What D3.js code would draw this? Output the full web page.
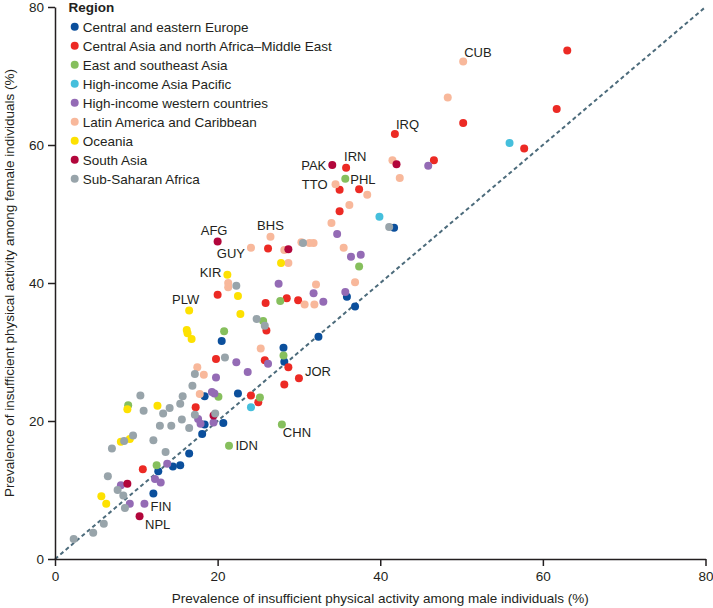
<!DOCTYPE html>
<html>
<head>
<meta charset="utf-8">
<script src="https://cdn.jsdelivr.net/npm/d3@7"></script>
<style>
  body { margin: 0; background: #fff; }
  svg text { font-family: "Liberation Sans", Arial, sans-serif; fill: #231f20; }
</style>
</head>
<body>
<svg id="chart" width="713" height="608"></svg>
<script>
// DATA
const regions = [
  "Central and eastern Europe",
  "Central Asia and north Africa\u2013Middle East",
  "East and southeast Asia",
  "High-income Asia Pacific",
  "High-income western countries",
  "Latin America and Caribbean",
  "Oceania",
  "South Asia",
  "Sub-Saharan Africa",
];
const regionColours = ["#0b4f9c", "#ec2a24", "#86bf5d", "#45bfdc", "#946bb5", "#f8b89b", "#fde101", "#b2063b", "#98a4aa"];

// [male %, female %, label]
const centralEasternEurope = [
  [41.7, 48.0], [35.9, 38.0], [36.9, 36.6], [32.4, 32.2], [20.5, 31.6], [28.1, 30.6],
  [28.2, 28.6], [18.4, 23.6], [22.5, 24.0], [18.4, 19.5], [20.7, 19.7], [18.1, 18.1],
  [16.5, 15.3], [14.5, 13.4], [15.4, 13.6], [12.7, 12.7], [12.1, 9.5],
];
const centralAsiaNAME = [
  [63.0, 73.7], [61.7, 65.2], [50.2, 63.2], [41.8, 61.6, "IRQ"], [57.7, 59.5], [46.6, 57.8],
  [35.8, 56.7, "IRN"], [37.4, 53.6], [35.0, 53.5], [35.0, 50.4], [26.2, 45.0], [20.0, 38.3],
  [28.5, 37.8], [29.9, 37.5], [25.9, 37.1], [26.0, 33.1], [28.7, 27.8], [25.8, 28.8],
  [19.8, 29.0], [30.0, 26.2, "JOR"], [28.2, 25.3], [24.1, 23.7], [25.0, 22.7], [17.3, 22.0],
  [10.8, 13.0],
];
const eastSoutheastAsia = [
  [35.7, 55.1, "PHL"], [37.4, 42.4], [27.7, 37.4], [25.6, 34.5], [20.8, 33.0], [28.1, 29.5],
  [20.1, 23.5], [25.2, 23.4], [9.0, 22.3], [27.9, 19.5, "CHN"], [21.4, 16.4, "IDN"], [12.5, 13.6],
];
const highIncomeAsiaPacific = [[55.9, 60.3], [39.9, 49.6], [24.1, 22.0]];
const highIncomeWestern = [
  [45.9, 57.0], [34.7, 47.1], [36.4, 43.8], [37.6, 44.1], [35.7, 38.7], [27.5, 39.9],
  [31.8, 38.5], [33.0, 37.3], [26.2, 28.3], [22.3, 28.5], [23.7, 27.1], [19.8, 26.3],
  [19.3, 24.2], [19.6, 24.0], [17.6, 20.3], [17.9, 19.6], [19.5, 19.8], [13.8, 13.8],
  [12.3, 11.6], [13.0, 11.1], [8.1, 10.7], [9.2, 8.0], [11.0, 8.0, "FIN"],
];
const latinAmericaCaribbean = [
  [50.2, 72.1, "CUB"], [48.3, 66.9], [41.5, 57.8], [42.4, 55.2], [34.5, 54.3, "TTO"], [38.4, 52.8],
  [36.2, 51.3], [34.0, 48.7], [35.5, 45.1], [36.9, 40.1], [26.5, 46.7, "BHS"], [24.1, 45.1, "GUY"],
  [28.2, 44.8], [30.3, 45.9], [31.3, 45.8], [31.8, 45.8], [28.7, 42.9], [21.3, 40.0],
  [21.3, 39.4], [32.1, 39.8], [30.7, 36.9], [31.9, 36.9], [25.3, 30.5], [17.5, 27.8],
  [18.3, 26.7], [17.8, 23.9],
];
const oceania = [
  [27.8, 42.9], [21.2, 41.2, "KIR"], [22.5, 38.1], [16.5, 36.0, "PLW"], [22.8, 35.5], [16.2, 33.2],
  [16.3, 32.7], [16.8, 31.9], [8.9, 21.7], [12.6, 22.2], [8.1, 17.0], [9.2, 17.4],
  [5.7, 9.1], [6.3, 8.0],
];
const southAsia = [
  [42.0, 57.2], [34.1, 57.1, "PAK"], [20.0, 46.0, "AFG"], [28.7, 44.9], [19.5, 20.8],
  [8.9, 10.9], [10.4, 6.2, "NPL"],
];
const subSaharanAfrica = [
  [41.1, 48.1], [30.5, 45.8], [22.3, 39.6], [24.8, 34.8], [25.8, 33.8], [20.9, 29.2],
  [17.2, 26.8], [16.9, 25.1], [10.5, 23.7], [10.9, 21.5], [14.1, 21.9], [15.7, 23.6],
  [15.4, 22.5], [13.3, 21.1], [17.2, 20.9], [19.7, 21.1], [15.6, 20.2], [12.9, 19.3],
  [14.3, 19.3], [16.5, 19.0], [9.6, 17.9], [8.5, 17.1], [12.1, 17.2], [7.0, 16.0],
  [13.6, 15.5], [6.5, 12.0], [7.7, 10.0], [8.4, 9.2], [8.6, 7.4], [6.0, 5.1],
  [4.7, 3.8], [2.3, 2.9],
];
const regionSeries = [
  centralEasternEurope, centralAsiaNAME, eastSoutheastAsia, highIncomeAsiaPacific,
  highIncomeWestern, latinAmericaCaribbean, oceania, southAsia, subSaharanAfrica,
];
const xTicks = [0, 20, 40, 60, 80];
const yTicks = [0, 20, 40, 60, 80];

// RENDER
const svg = d3.select("#chart");
const x = d3.scaleLinear().domain([0, 80]).range([55, 705.5]);
const y = d3.scaleLinear().domain([0, 80]).range([559, 7]);
const colour = d3.scaleOrdinal().domain(regions).range(regionColours);

const points = regionSeries.flatMap((s, i) =>
  s.map(d => ({ region: regions[i], male: d[0], female: d[1], code: d[2] }))
);

// equality line
svg.append("line")
  .attr("x1", x(0)).attr("y1", y(0))
  .attr("x2", x(80)).attr("y2", y(80))
  .attr("stroke", "#4c6b7b")
  .attr("stroke-width", 2)
  .attr("stroke-dasharray", "4 3");

// axes
const xAxis = svg.append("g")
  .attr("transform", `translate(0,${y(0)})`)
  .call(d3.axisBottom(x).tickValues(xTicks).tickSize(7).tickPadding(5).tickSizeOuter(0));
const yAxis = svg.append("g")
  .attr("transform", `translate(${x(0)},0)`)
  .call(d3.axisLeft(y).tickValues(yTicks).tickSize(7).tickPadding(4).tickSizeOuter(0));
[xAxis, yAxis].forEach(a => {
  a.select(".domain").attr("stroke", "#231f20").attr("stroke-width", 1.5);
  a.selectAll(".tick line").attr("stroke", "#231f20").attr("stroke-width", 1.5);
  a.selectAll(".tick text").style("font-size", "13.5px").attr("fill", "#231f20");
});

svg.append("text")
  .attr("x", (x(0) + x(80)) / 2)
  .attr("y", 603)
  .attr("text-anchor", "middle")
  .style("font-size", "13.5px")
  .text("Prevalence of insufficient physical activity among male individuals (%)");

svg.append("text")
  .attr("transform", `translate(14,${(y(0) + y(80)) / 2}) rotate(-90)`)
  .attr("text-anchor", "middle")
  .style("font-size", "13.5px")
  .text("Prevalence of insufficient physical activity among female individuals (%)");

// dots
svg.append("g")
  .selectAll("circle")
  .data(points)
  .join("circle")
  .attr("cx", d => x(d.male))
  .attr("cy", d => y(d.female))
  .attr("r", 4)
  .attr("fill", d => colour(d.region));

// country labels: anchor, dx, dy (pixels from dot)
const labelPlace = {
  CUB: ["start", 1, -5], IRQ: ["start", 1, -5], IRN: ["start", -2, -6.5],
  PAK: ["end", -6, 4.5], PHL: ["start", 5, 5.5], TTO: ["end", -8, 5],
  AFG: ["middle", -3.5, -7], BHS: ["middle", 0, -7], GUY: ["end", -6, 10],
  KIR: ["end", -6, 2.5], PLW: ["middle", -3.5, -7], JOR: ["start", 6, -2],
  CHN: ["start", 1, 13], IDN: ["start", 6.5, 4.5], FIN: ["start", 6, 7.5],
  NPL: ["start", 5.5, 13],
};
svg.append("g")
  .selectAll("text")
  .data(points.filter(d => d.code))
  .join("text")
  .attr("x", d => x(d.male) + labelPlace[d.code][1])
  .attr("y", d => y(d.female) + labelPlace[d.code][2])
  .attr("text-anchor", d => labelPlace[d.code][0])
  .style("font-size", "13px")
  .text(d => d.code);

// legend
const legend = svg.append("g");
legend.append("text")
  .attr("x", 68.5).attr("y", 11.5)
  .style("font-size", "13.5px")
  .style("font-weight", "bold")
  .text("Region");
const item = legend.selectAll(".item")
  .data(regions)
  .join("g")
  .attr("class", "item")
  .attr("transform", (_, i) => `translate(74.7,${26.7 + i * 19})`);
item.append("circle").attr("r", 4).attr("fill", d => colour(d));
item.append("text").attr("x", 8).attr("y", 4.8).style("font-size", "13.5px").text(d => d);
</script>
</body>
</html>
